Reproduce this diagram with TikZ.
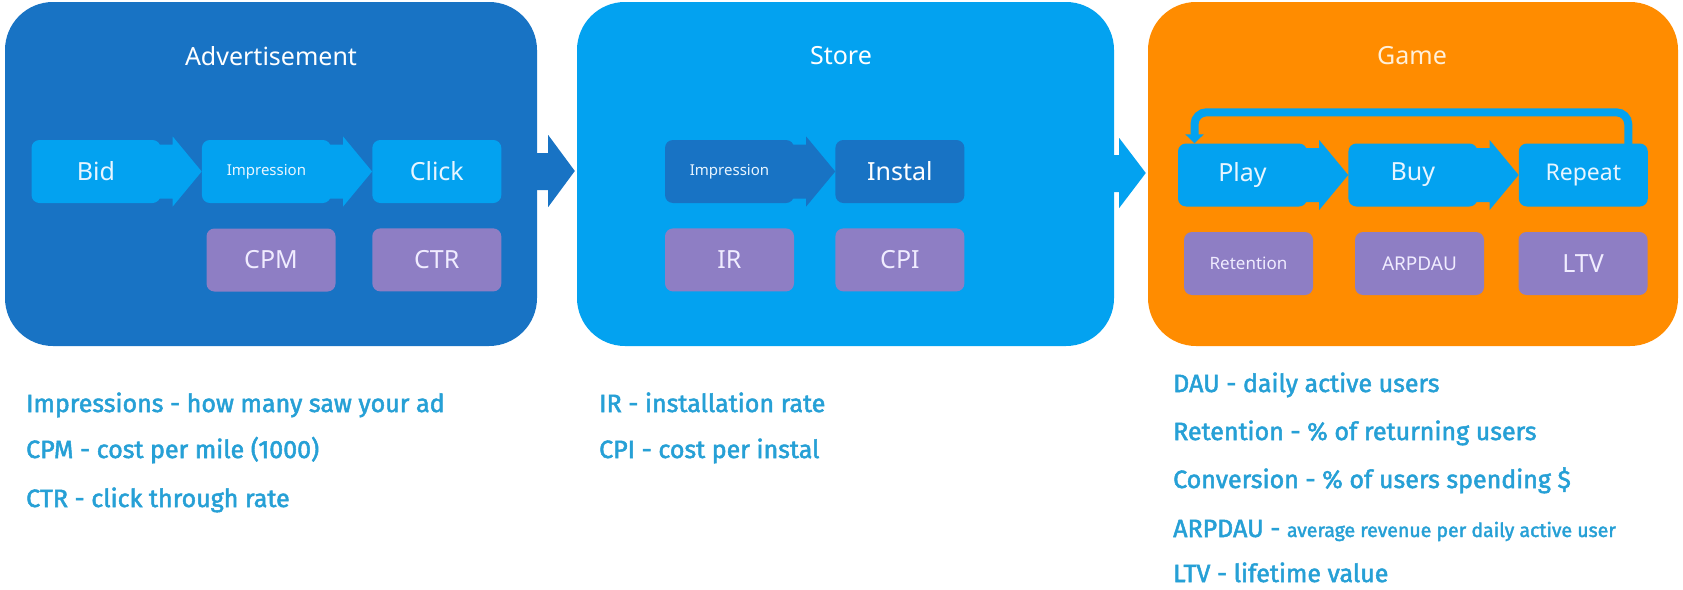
\documentclass[tikz,border=0pt]{standalone}
\usepackage{fontspec}
\setmainfont{Noto Sans}
\newfontfamily\notefont{Fira Sans}[FakeBold=2]
\usepackage{tikz}
\usetikzlibrary{arrows.meta, positioning, calc}
\definecolor{adblue}{RGB}{24,115,196}
\definecolor{skyblue}{RGB}{3,162,240}
\definecolor{gameorange}{RGB}{255,140,0}
\definecolor{mpurple}{RGB}{142,126,196}
\definecolor{notecol}{RGB}{38,160,214}
\definecolor{lbltext}{RGB}{232,245,255}
\definecolor{mtext}{RGB}{240,236,255}
\definecolor{gametitle}{RGB}{255,240,218}
\tikzset{
  panel/.style={rectangle, rounded corners=48pt, inner sep=0pt,
    minimum height=344pt},
  ptitle/.style={inner sep=0pt, text=white, font=\fontsize{25}{30}\selectfont},
  stepbox/.style={rectangle, rounded corners=8pt, inner sep=0pt,
    minimum width=129pt, minimum height=63pt, text=lbltext,
    font=\fontsize{25}{30}\selectfont},
  metric/.style={stepbox, fill=mpurple, text=mtext},
  smalltxt/.style={font=\fontsize{15}{18}\selectfont},
  note/.style={anchor=base west, inner sep=0pt, text=notecol,
    font=\notefont\fontsize{25}{29}\selectfont},
  looparrow/.style={draw=skyblue, line width=8pt, rounded corners=12pt,
    -{Triangle[width=18pt,length=9pt]}}
}
% chevron arrow from box #1 to box #2
\newcommand{\chev}[3]{%
  \fill[#3] ($(#1.east)+(-4pt,27pt)$) -- ($(#1.east)+(12pt,27pt)$)
    -- ($(#1.east)+(12pt,35pt)$) -- (#2.west)
    -- ($(#1.east)+(12pt,-35pt)$) -- ($(#1.east)+(12pt,-27pt)$)
    -- ($(#1.east)+(-4pt,-27pt)$) -- cycle;}

\begin{document}
\begin{tikzpicture}[x=1pt, y=-1pt]
  \useasboundingbox[fill=white] (0,0) rectangle (1683,589);

  % ── Panels ──────────────────────────────────────────────────────────────
  \node[panel, fill=adblue, minimum width=532pt]     (adv)   at (271,174)   {};
  \node[panel, fill=skyblue, minimum width=537pt]    (store) at (845.5,174) {};
  \node[panel, fill=gameorange, minimum width=530pt] (game)  at (1413,174)  {};

  \node[ptitle] (advtitle)   at (271,56)  {Advertisement};
  \node[ptitle] (storetitle) at (841,56)  {Store};
  \node[ptitle, text=gametitle] (gametitle) at (1412,56) {Game};

  % ── Panel to panel arrows ───────────────────────────────────────────────
  \fill[adblue] ($(adv.east)+(-4pt,21pt)$) -- ($(adv.east)+(11pt,21pt)$)
    -- ($(adv.east)+(11pt,39pt)$) -- ($(store.west)+(-2pt,3pt)$)
    -- ($(adv.east)+(11pt,-33pt)$) -- ($(adv.east)+(11pt,-16pt)$)
    -- ($(adv.east)+(-4pt,-16pt)$) -- cycle;
  \fill[skyblue] ($(store.east)+(-4pt,19pt)$) -- ($(store.east)+(5pt,19pt)$)
    -- ($(store.east)+(5pt,36pt)$) -- ($(game.west)+(-2pt,1pt)$)
    -- ($(store.east)+(5pt,-34pt)$) -- ($(store.east)+(5pt,-18pt)$)
    -- ($(store.east)+(-4pt,-18pt)$) -- cycle;

  % ── Advertisement ───────────────────────────────────────────────────────
  \node[stepbox, fill=skyblue] (bid) at (96,171.5) {Bid};
  \node[stepbox, fill=skyblue, smalltxt, right=41pt of bid] (adimp) {Impression};
  \node[stepbox, fill=skyblue, right=41pt of adimp] (click) {Click};
  \node[metric] (cpm) at (271,260) {CPM};
  \node[metric, below=25pt of click] (ctr) {CTR};
  \chev{bid}{adimp}{skyblue}
  \chev{adimp}{click}{skyblue}

  % ── Store ───────────────────────────────────────────────────────────────
  \node[stepbox, fill=adblue, smalltxt] (stimp) at (729.5,171.5) {Impression};
  \node[stepbox, fill=adblue, text=white, right=41pt of stimp] (instal) {Instal};
  \node[metric, below=25pt of stimp]  (ir)  {IR};
  \node[metric, below=25pt of instal] (cpi) {CPI};
  \chev{stimp}{instal}{adblue}

  % ── Game ────────────────────────────────────────────────────────────────
  \node[stepbox, fill=skyblue] (play) at (1242.5,175) {Play};
  \node[stepbox, fill=skyblue, right=41pt of play] (buy) {Buy};
  \node[stepbox, fill=skyblue, font=\fontsize{23}{28}\selectfont,
    right=41pt of buy] (repeat) {Repeat};
  \node[metric, font=\fontsize{17}{20}\selectfont] (retention) at (1248.5,263.5) {Retention};
  \node[metric, font=\fontsize{19}{22}\selectfont] (arpdau) at (1419.5,263.5) {ARPDAU};
  \node[metric] (ltv) at (1583,263.5) {LTV};
  \chev{play}{buy}{skyblue}
  \chev{buy}{repeat}{skyblue}
  \draw[looparrow] ([xshift=45pt, yshift=-4pt]repeat.north)
    |- ([xshift=-48pt, yshift=31pt]play.north) -- ([xshift=-48pt]play.north);

  % ── Notes ───────────────────────────────────────────────────────────────
  \node[note] (n1) at (26,412) {Impressions - how many saw your ad};
  \node[note] (n2) at (26,458) {CPM - cost per mile (1000)};
  \node[note] (n3) at (26,507) {CTR - click through rate};

  \node[note] (n4) at (599,412) {IR - installation rate};
  \node[note] (n5) at (599,458) {CPI - cost per instal};

  \node[note] (n6)  at (1173,392) {DAU - daily active users};
  \node[note] (n7)  at (1173,440) {Retention - \% of returning users};
  \node[note] (n8)  at (1173,488) {Conversion - \% of users spending \$};
  \node[note] (n9)  at (1173,537) {ARPDAU - {\fontsize{19.5}{23}\selectfont average revenue per daily active user}};
  \node[note] (n10) at (1173,582) {LTV - lifetime value};
\end{tikzpicture}
\end{document}
